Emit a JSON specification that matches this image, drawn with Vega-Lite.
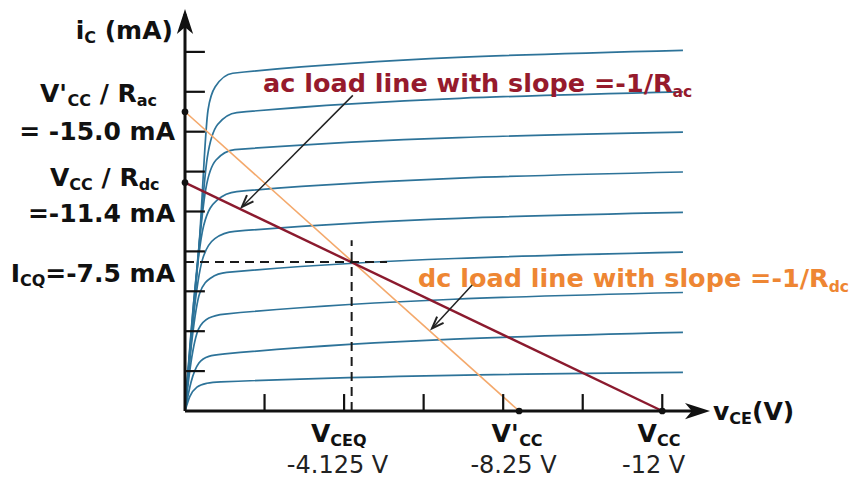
{
  "$schema": "https://vega.github.io/schema/vega-lite/v6.json",
  "width": 525,
  "height": 402,
  "autosize": {"type": "none"},
  "padding": {"left": 185, "top": 9, "right": 140, "bottom": 70},
  "background": "white",
  "config": {"view": {"stroke": null}, "font": "DejaVu Sans"},
  "datasets": {
    "curves": [
      {"k":1,"x":0,"y":0},{"k":1,"x":0.12,"y":0.72},{"k":1,"x":0.3,"y":1.2},{"k":1,"x":0.55,"y":1.39},{"k":1,"x":0.9,"y":1.46},{"k":1,"x":12.52,"y":1.94},
      {"k":2,"x":0,"y":0},{"k":2,"x":0.15,"y":1.43},{"k":2,"x":0.35,"y":2.4},{"k":2,"x":0.6,"y":2.74},{"k":2,"x":1.0,"y":2.86},{"k":2,"x":12.52,"y":3.94},
      {"k":3,"x":0,"y":0},{"k":3,"x":0.15,"y":2.43},{"k":3,"x":0.34,"y":4.1},{"k":3,"x":0.6,"y":4.66},{"k":3,"x":1.0,"y":4.86},{"k":3,"x":12.52,"y":5.94},
      {"k":4,"x":0,"y":0},{"k":4,"x":0.17,"y":3.48},{"k":4,"x":0.37,"y":5.9},{"k":4,"x":0.65,"y":6.67},{"k":4,"x":1.05,"y":6.95},{"k":4,"x":12.52,"y":7.96},
      {"k":5,"x":0,"y":0},{"k":5,"x":0.2,"y":4.5},{"k":5,"x":0.44,"y":7.6},{"k":5,"x":0.75,"y":8.64},{"k":5,"x":1.25,"y":9.0},{"k":5,"x":12.52,"y":9.96},
      {"k":6,"x":0,"y":0},{"k":6,"x":0.22,"y":5.5},{"k":6,"x":0.47,"y":9.3},{"k":6,"x":0.8,"y":10.56},{"k":6,"x":1.3,"y":11.0},{"k":6,"x":12.52,"y":11.98},
      {"k":7,"x":0,"y":0},{"k":7,"x":0.27,"y":6.55},{"k":7,"x":0.52,"y":11.1},{"k":7,"x":0.78,"y":12.58},{"k":7,"x":1.25,"y":13.1},{"k":7,"x":12.52,"y":13.98},
      {"k":8,"x":0,"y":0},{"k":8,"x":0.32,"y":7.48},{"k":8,"x":0.56,"y":12.7},{"k":8,"x":0.82,"y":14.36},{"k":8,"x":1.3,"y":14.96},{"k":8,"x":12.52,"y":16.0},
      {"k":9,"x":0,"y":0},{"k":9,"x":0.36,"y":8.47},{"k":9,"x":0.58,"y":15.1},{"k":9,"x":0.76,"y":16.25},{"k":9,"x":1.2,"y":16.93},{"k":9,"x":12.52,"y":18.08}
    ],
    "acLine": [{"x":0,"y":11.45,"x2":12,"y2":0}],
    "dcLine": [{"x":0,"y":15.0,"x2":8.4,"y2":0}],
    "dashed": [{"x":0,"y":7.47,"x2":5.08,"y2":7.47},{"x":4.19,"y":0,"x2":4.19,"y2":8.56}],
    "axes": [{"x":0,"y":0,"x2":13.0,"y2":0},{"x":0,"y":0,"x2":0,"y2":19.9}],
    "ticks": [
      {"x":2,"y":0,"x2":2,"y2":0.85},{"x":4,"y":0,"x2":4,"y2":0.85},{"x":6,"y":0,"x2":6,"y2":0.85},
      {"x":8,"y":0,"x2":8,"y2":0.85},{"x":10,"y":0,"x2":10,"y2":0.85},{"x":12,"y":0,"x2":12,"y2":0.85},
      {"x":0,"y":2,"x2":0.5,"y2":2},{"x":0,"y":4,"x2":0.5,"y2":4},{"x":0,"y":6,"x2":0.5,"y2":6},
      {"x":0,"y":8,"x2":0.5,"y2":8},{"x":0,"y":10,"x2":0.5,"y2":10},{"x":0,"y":12,"x2":0.5,"y2":12},
      {"x":0,"y":14,"x2":0.5,"y2":14},{"x":0,"y":16,"x2":0.5,"y2":16},{"x":0,"y":18,"x2":0.5,"y2":18}
    ],
    "xHead": [{"x":13.2,"y":0}],
    "yHead": [{"x":0,"y":20.15}],
    "dots": [{"x":0,"y":15.0},{"x":0,"y":11.45},{"x":8.4,"y":0},{"x":12,"y":0}],
    "pointers": [{"x":4.22,"y":15.82,"x2":1.43,"y2":10.23},{"x":7.26,"y":6.4,"x2":6.21,"y2":4.14}],
    "pointerHeads": [{"x":1.43,"y":10.23},{"x":6.21,"y":4.14}],
    "mainL": [
      {"x":-2.748,"y":18.65,"t":"i"},
      {"x":-2.019,"y":18.65,"t":"(mA)"},
      {"x":-3.646,"y":15.49,"t":"V'"},
      {"x":-2.145,"y":15.49,"t":"/ R"},
      {"x":-3.395,"y":11.28,"t":"V"},
      {"x":-2.097,"y":11.28,"t":"/ R"},
      {"x":-4.383,"y":6.466,"t":"I"},
      {"x":3.168,"y":-1.554,"t":"V"},
      {"x":7.707,"y":-1.554,"t":"V'"},
      {"x":11.38,"y":-1.554,"t":"V"},
      {"x":13.276,"y":-0.451,"t":"v"},
      {"x":14.257,"y":-0.451,"t":"(V)"}
    ],
    "subL": [
      {"x":-2.533,"y":18.65,"t":"C"},
      {"x":-2.952,"y":15.49,"t":"CC"},
      {"x":-1.212,"y":15.49,"t":"ac"},
      {"x":-2.908,"y":11.28,"t":"CC"},
      {"x":-1.165,"y":11.28,"t":"dc"},
      {"x":-4.149,"y":6.466,"t":"CQ"},
      {"x":3.655,"y":-1.554,"t":"CEQ"},
      {"x":8.401,"y":-1.554,"t":"CC"},
      {"x":11.867,"y":-1.554,"t":"CC"},
      {"x":13.686,"y":-0.451,"t":"CE"}
    ],
    "mainR": [
      {"x":-0.251,"y":13.58,"t":"= -15.0 mA"},
      {"x":-0.251,"y":9.47,"t":"=-11.4 mA"},
      {"x":-0.251,"y":6.466,"t":"=-7.5 mA"}
    ],
    "nums": [
      {"x":3.835,"y":-3.108,"t":"-4.125 V"},
      {"x":8.26,"y":-3.108,"t":"-8.25 V"},
      {"x":11.783,"y":-3.108,"t":"-12 V"}
    ],
    "acText": [{"x":1.961,"y":15.99,"t":"ac load line with slope =-1/R"}],
    "acSub": [{"x":12.259,"y":15.99,"t":"ac"}],
    "dcText": [{"x":5.859,"y":6.216,"t":"dc load line with slope =-1/R"}],
    "dcSub": [{"x":16.185,"y":6.216,"t":"dc"}]
  },
  "encoding": {
    "x": {"field": "x", "type": "quantitative", "scale": {"domain": [0, 13.2], "nice": false, "zero": false}, "axis": null},
    "y": {"field": "y", "type": "quantitative", "scale": {"domain": [0, 20.15], "nice": false, "zero": false}, "axis": null}
  },
  "layer": [
    {"data": {"name": "curves"}, "mark": {"type": "line", "interpolate": "monotone", "color": "#2d7399", "strokeWidth": 1.7},
     "encoding": {"detail": {"field": "k", "type": "nominal"}}},
    {"data": {"name": "dcLine"}, "mark": {"type": "rule", "color": "#f4a96c", "strokeWidth": 1.6},
     "encoding": {"x2": {"field": "x2"}, "y2": {"field": "y2"}}},
    {"data": {"name": "acLine"}, "mark": {"type": "rule", "color": "#8b1a2e", "strokeWidth": 2.4},
     "encoding": {"x2": {"field": "x2"}, "y2": {"field": "y2"}}},
    {"data": {"name": "dashed"}, "mark": {"type": "rule", "color": "#1a1a1a", "strokeWidth": 2, "strokeDash": [9, 6]},
     "encoding": {"x2": {"field": "x2"}, "y2": {"field": "y2"}}},
    {"data": {"name": "axes"}, "mark": {"type": "rule", "color": "#111111", "strokeWidth": 3},
     "encoding": {"x2": {"field": "x2"}, "y2": {"field": "y2"}}},
    {"data": {"name": "ticks"}, "mark": {"type": "rule", "color": "#111111", "strokeWidth": 2.2},
     "encoding": {"x2": {"field": "x2"}, "y2": {"field": "y2"}}},
    {"data": {"name": "xHead"}, "mark": {"type": "point", "shape": "M0,0L-2,-0.65L-1.45,0L-2,0.65Z", "size": 625, "filled": true, "color": "#111111", "opacity": 1}},
    {"data": {"name": "yHead"}, "mark": {"type": "point", "shape": "M0,0L-2,-0.65L-1.45,0L-2,0.65Z", "size": 625, "filled": true, "color": "#111111", "opacity": 1, "angle": -90}},
    {"data": {"name": "dots"}, "mark": {"type": "circle", "size": 45, "color": "#111111", "opacity": 1}},
    {"data": {"name": "pointers"}, "mark": {"type": "rule", "color": "#222222", "strokeWidth": 1.5},
     "encoding": {"x2": {"field": "x2"}, "y2": {"field": "y2"}}},
    {"data": {"name": "pointerHeads"}, "mark": {"type": "point", "shape": "M-2,-0.75L0,0L-2,0.75", "size": 144, "filled": false, "stroke": "#222222", "strokeWidth": 2, "opacity": 1, "angle": 134}},
    {"data": {"name": "mainL"}, "mark": {"type": "text", "font": "DejaVu Sans", "fontWeight": "bold", "fontSize": 25, "align": "left", "baseline": "alphabetic", "color": "#111111"},
     "encoding": {"text": {"field": "t"}}},
    {"data": {"name": "subL"}, "mark": {"type": "text", "font": "DejaVu Sans", "fontWeight": "bold", "fontSize": 16, "dy": 4, "align": "left", "baseline": "alphabetic", "color": "#111111"},
     "encoding": {"text": {"field": "t"}}},
    {"data": {"name": "mainR"}, "mark": {"type": "text", "font": "DejaVu Sans", "fontWeight": "bold", "fontSize": 25, "align": "right", "baseline": "alphabetic", "color": "#111111"},
     "encoding": {"text": {"field": "t"}}},
    {"data": {"name": "nums"}, "mark": {"type": "text", "font": "DejaVu Sans", "fontSize": 24, "align": "center", "baseline": "alphabetic", "color": "#222222"},
     "encoding": {"text": {"field": "t"}}},
    {"data": {"name": "acText"}, "mark": {"type": "text", "font": "DejaVu Sans", "fontWeight": "bold", "fontSize": 25.5, "align": "left", "baseline": "alphabetic", "color": "#961a2c"},
     "encoding": {"text": {"field": "t"}}},
    {"data": {"name": "acSub"}, "mark": {"type": "text", "font": "DejaVu Sans", "fontWeight": "bold", "fontSize": 15.5, "dy": 5, "align": "left", "baseline": "alphabetic", "color": "#961a2c"},
     "encoding": {"text": {"field": "t"}}},
    {"data": {"name": "dcText"}, "mark": {"type": "text", "font": "DejaVu Sans", "fontWeight": "bold", "fontSize": 25.5, "align": "left", "baseline": "alphabetic", "color": "#ee8633"},
     "encoding": {"text": {"field": "t"}}},
    {"data": {"name": "dcSub"}, "mark": {"type": "text", "font": "DejaVu Sans", "fontWeight": "bold", "fontSize": 15.5, "dy": 5, "align": "left", "baseline": "alphabetic", "color": "#ee8633"},
     "encoding": {"text": {"field": "t"}}}
  ]
}
